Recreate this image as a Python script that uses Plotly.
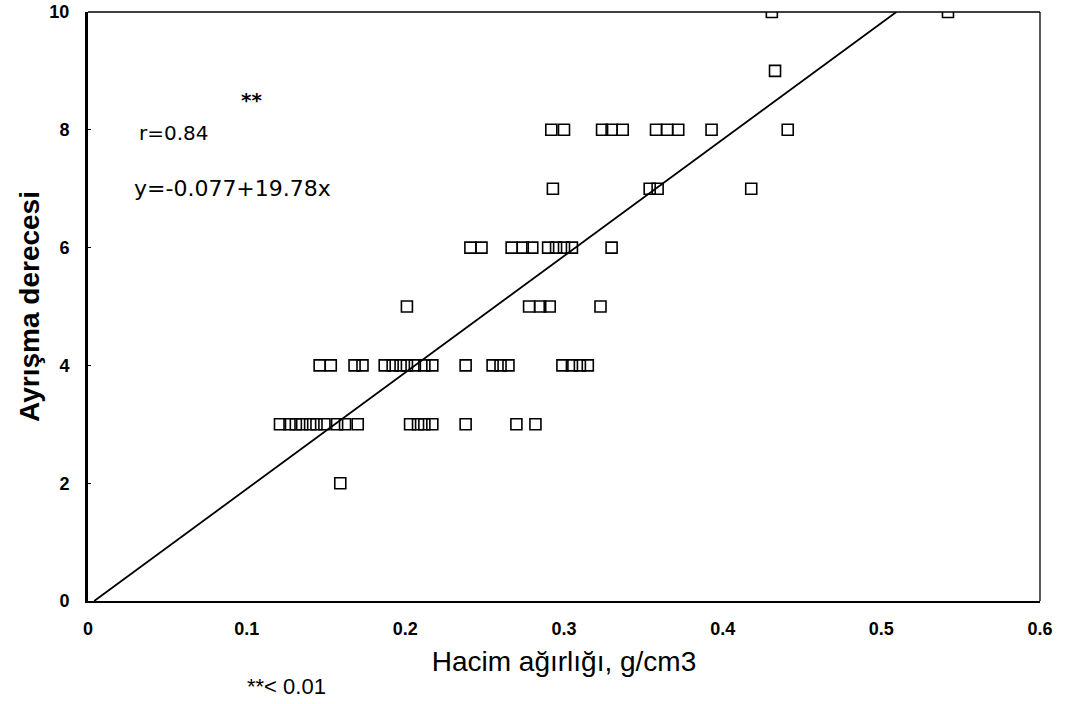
import plotly.graph_objects as go

# Data: (bulk density g/cm3, degree of decomposition)
x_vals = [
    0.159,
    0.121, 0.127, 0.131, 0.135, 0.140, 0.144, 0.149, 0.157, 0.162, 0.170,
    0.203, 0.208, 0.212, 0.217, 0.238, 0.270, 0.282,
    0.146, 0.153, 0.168, 0.173, 0.187, 0.192, 0.197, 0.201, 0.206, 0.212,
    0.217, 0.238, 0.255, 0.260, 0.265, 0.299, 0.305, 0.310, 0.315,
    0.201, 0.278, 0.285, 0.291, 0.323,
    0.241, 0.248, 0.267, 0.274, 0.280, 0.290, 0.295, 0.300, 0.305, 0.330,
    0.293, 0.354, 0.359, 0.418,
    0.292, 0.300, 0.324, 0.330, 0.337, 0.358, 0.365, 0.372, 0.393, 0.441,
    0.433,
    0.431, 0.542,
]
y_vals = [
    2,
    3, 3, 3, 3, 3, 3, 3, 3, 3, 3,
    3, 3, 3, 3, 3, 3, 3,
    4, 4, 4, 4, 4, 4, 4, 4, 4, 4,
    4, 4, 4, 4, 4, 4, 4, 4, 4,
    5, 5, 5, 5, 5,
    6, 6, 6, 6, 6, 6, 6, 6, 6, 6,
    7, 7, 7, 7,
    8, 8, 8, 8, 8, 8, 8, 8, 8, 8,
    9,
    10, 10,
]

intercept = -0.077
slope = 19.78
r_text = "r=0.84"
eq_text = "y=-0.077+19.78x"

x_ticks = [0, 0.1, 0.2, 0.3, 0.4, 0.5, 0.6]
x_tick_text = ["0", "0.1", "0.2", "0.3", "0.4", "0.5", "0.6"]
y_ticks = [0, 2, 4, 6, 8, 10]

# regression line between y=0 and y=10
line_x = [(0 - intercept) / slope, (10 - intercept) / slope]
line_y = [intercept + slope * v for v in line_x]

fig = go.Figure()
fig.add_trace(go.Scatter(
    x=line_x, y=line_y, mode="lines",
    line=dict(color="black", width=1.8), showlegend=False, hoverinfo="skip",
))
fig.add_trace(go.Scatter(
    x=x_vals, y=y_vals, mode="markers",
    marker=dict(symbol="square-open", size=11, color="black", line=dict(width=1.6)),
    showlegend=False,
))

tick_font = dict(family="Liberation Sans", size=18, color="black", weight="bold")

fig.update_xaxes(
    range=[0, 0.6], tickvals=x_ticks, ticktext=x_tick_text, automargin=False,
    showgrid=False, zeroline=False, showline=True, linecolor="black", linewidth=2,
    mirror=False, ticks="", tickfont=tick_font, ticklabelstandoff=10,
    title=dict(text="Hacim ağırlığı, g/cm3",
               font=dict(family="Liberation Sans", size=28, color="black"),
               standoff=14),
)
fig.update_yaxes(
    range=[0, 10], tickvals=y_ticks, automargin=False,
    showgrid=False, zeroline=False, showline=True, linecolor="black", linewidth=3,
    mirror=False, ticks="inside", ticklen=3, tickwidth=1, tickcolor="black",
    tickfont=tick_font, ticklabelstandoff=12,
    title=dict(text="Ayrışma derecesi",
               font=dict(family="Liberation Sans", size=28, color="black", weight="bold"),
               standoff=2),
)

# thin top and right frame lines
fig.add_shape(type="line", xref="paper", yref="paper", x0=0, x1=1, y0=1, y1=1,
              line=dict(color="black", width=1.3))
fig.add_shape(type="line", xref="paper", yref="paper", x0=1, x1=1, y0=0, y1=1,
              line=dict(color="black", width=1.3))

ann_font = dict(family="DejaVu Sans", size=20, color="black")
fig.add_annotation(x=0.031, y=7.95, xref="x", yref="y", text=r_text,
                   showarrow=False, xanchor="left", yanchor="middle", font=ann_font)
fig.add_annotation(x=0.095, y=8.5, xref="x", yref="y", text="**",
                   showarrow=False, xanchor="left", yanchor="middle",
                   font=dict(family="DejaVu Sans", size=20, color="black", weight="bold"))
fig.add_annotation(x=0.028, y=7.0, xref="x", yref="y", text=eq_text,
                   showarrow=False, xanchor="left", yanchor="middle",
                   font=dict(family="DejaVu Sans", size=22, color="black"))
fig.add_annotation(x=0.165, y=-0.145, xref="paper", yref="paper", text="**< 0.01",
                   showarrow=False, xanchor="left", yanchor="middle",
                   font=dict(family="Liberation Sans", size=22, color="black"))

fig.update_layout(
    width=1066, height=704,
    margin=dict(l=88, r=26, t=12, b=103),
    paper_bgcolor="white", plot_bgcolor="white",
)

fig.write_html("out.html")
